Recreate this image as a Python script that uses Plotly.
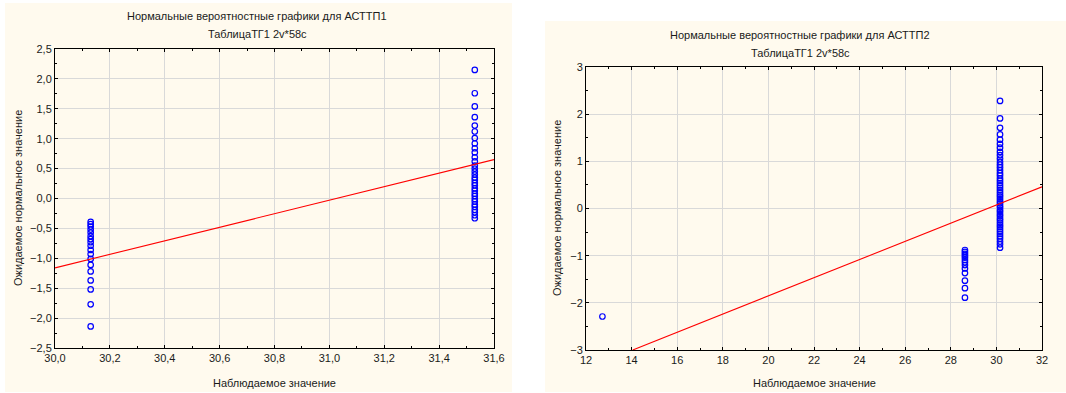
import plotly.graph_objects as go

W, H = 1066, 393

# ---------------- data: chart 1 (АСТТП1) ----------------
c1_x_low = 30.13
c1_low = [-0.39, -0.43, -0.47, -0.52, -0.57, -0.63, -0.68, -0.73, -0.79, -0.86,
          -0.93, -1.01, -1.11, -1.22, -1.37, -1.52, -1.77, -2.14]
c1_x_high = 31.53
c1_high = [2.15, 1.76, 1.54, 1.36, 1.22, 1.12, 1.01, 0.92, 0.84, 0.77, 0.69,
           0.62, 0.55, 0.50, 0.45, 0.40, 0.35, 0.31, 0.26, 0.22, 0.17, 0.13,
           0.08, 0.04, -0.01, -0.05, -0.10, -0.14, -0.19, -0.23, -0.28, -0.33]
c1_fit_x = [30.0, 31.6]
c1_fit_y = [-1.16, 0.65]

# ---------------- data: chart 2 (АСТТП2) ----------------
c2_x_single = 12.72
c2_single = [-2.29]
c2_x_mid = 28.62
c2_mid = [-0.88, -0.92, -0.96, -1.00, -1.04, -1.09, -1.14, -1.20, -1.27,
          -1.37, -1.53, -1.69, -1.89]
c2_x_high = 30.16
c2_high = [2.28, 1.91, 1.71, 1.57, 1.46, 1.37, 1.29, 1.20, 1.13, 1.06,
           0.99, 0.93, 0.87, 0.81, 0.75, 0.70, 0.64, 0.59, 0.54, 0.49,
           0.44, 0.39, 0.34, 0.29, 0.25, 0.20, 0.15, 0.11, 0.06, 0.02,
           -0.03, -0.07, -0.12, -0.16, -0.21, -0.25, -0.30, -0.35, -0.39,
           -0.44, -0.49, -0.54, -0.59, -0.64, -0.70, -0.76, -0.83]
c2_fit_x = [14.05, 32.0]
c2_fit_y = [-3.0, 0.46]

title1 = "Нормальные вероятностные графики для АСТТП1"
title2 = "Нормальные вероятностные графики для АСТТП2"
subtitle = "ТаблицаТГ1 2v*58c"
xlabel = "Наблюдаемое значение"
ylabel = "Ожидаемое нормальное значение"

FONT = "Liberation Sans, Arial, sans-serif"
CREAM = "#FFFAEE"
MK = dict(symbol="circle-open", size=5.5, color="#0000FF", line=dict(width=1.2, color="#0000FF"))

def px(x):
    return x / W

def py(y):
    return 1 - y / H

fig = go.Figure()

fig.add_trace(go.Scatter(x=[c1_x_low] * len(c1_low), y=c1_low, mode="markers",
                         marker=MK, xaxis="x", yaxis="y", showlegend=False))
fig.add_trace(go.Scatter(x=[c1_x_high] * len(c1_high), y=c1_high, mode="markers",
                         marker=MK, xaxis="x", yaxis="y", showlegend=False))
fig.add_trace(go.Scatter(x=c1_fit_x, y=c1_fit_y, mode="lines",
                         line=dict(color="#FF0000", width=1.1), xaxis="x", yaxis="y",
                         showlegend=False))

fig.add_trace(go.Scatter(x=[c2_x_single] * len(c2_single), y=c2_single, mode="markers",
                         marker=MK, xaxis="x2", yaxis="y2", showlegend=False))
fig.add_trace(go.Scatter(x=[c2_x_mid] * len(c2_mid), y=c2_mid, mode="markers",
                         marker=MK, xaxis="x2", yaxis="y2", showlegend=False))
fig.add_trace(go.Scatter(x=[c2_x_high] * len(c2_high), y=c2_high, mode="markers",
                         marker=MK, xaxis="x2", yaxis="y2", showlegend=False))
fig.add_trace(go.Scatter(x=c2_fit_x, y=c2_fit_y, mode="lines",
                         line=dict(color="#FF0000", width=1.1), xaxis="x2", yaxis="y2",
                         showlegend=False))

axis_common = dict(
    showgrid=True, gridcolor="#D9D9D9", gridwidth=1, zeroline=False,
    showline=True, linecolor="#000000", linewidth=1, mirror="allticks",
    ticks="inside", ticklen=3, tickcolor="#000000",
    tickfont=dict(family=FONT, size=11, color="#1a1a1a"),
    automargin=False, fixedrange=True,
)

fig.update_layout(
    width=W, height=H,
    margin=dict(l=0, r=0, t=0, b=0),
    paper_bgcolor="#FFFFFF", plot_bgcolor="#FFFFFF",
    separators=", ",
    font=dict(family=FONT, size=11, color="#1a1a1a"),
    xaxis=dict(axis_common, domain=[px(55), px(494)], range=[30.0, 31.6],
               tick0=30.0, dtick=0.2, tickformat=".1f", anchor="y",
               minor=dict(dtick=0.1, ticks="inside", ticklen=2, showgrid=False, tickcolor="#000")),
    yaxis=dict(axis_common, domain=[py(348), py(49)], range=[-2.5, 2.5],
               tick0=-2.5, dtick=0.5, tickformat=".1f", anchor="x",
               minor=dict(dtick=0.25, ticks="inside", ticklen=2, showgrid=False, tickcolor="#000")),
    xaxis2=dict(axis_common, domain=[px(586), px(1042)], range=[12, 32],
                tick0=12, dtick=2, anchor="y2",
                minor=dict(dtick=1, ticks="inside", ticklen=2, showgrid=False, tickcolor="#000")),
    yaxis2=dict(axis_common, domain=[py(350), py(67)], range=[-3, 3],
                tick0=-3, dtick=1, anchor="x2",
                minor=dict(dtick=0.5, ticks="inside", ticklen=2, showgrid=False, tickcolor="#000")),
    shapes=[
        dict(type="rect", xref="paper", yref="paper", x0=px(5), x1=px(512),
             y0=py(392), y1=py(3), fillcolor=CREAM, line=dict(width=0), layer="below"),
        dict(type="rect", xref="paper", yref="paper", x0=px(545), x1=1.0,
             y0=py(392), y1=py(21), fillcolor=CREAM, line=dict(width=0), layer="below"),
    ],
)

ann = []
def add_text(text, x, y, angle=0, size=11):
    ann.append(dict(text=text, x=px(x), y=py(y), xref="paper", yref="paper",
                    showarrow=False, xanchor="center", yanchor="middle",
                    textangle=angle, font=dict(family=FONT, size=size, color="#1a1a1a")))

add_text(title1, 257, 16)
add_text(subtitle, 257, 34)
add_text(title2, 800, 35)
add_text(subtitle, 800, 53)
add_text(xlabel, 274, 383)
add_text(xlabel, 814, 383)
add_text(ylabel, 18, 198, angle=-90)
add_text(ylabel, 557, 208, angle=-90)
fig.update_layout(annotations=ann)

fig.write_html(
    "out.html",
    config={"displayModeBar": False},
    post_script="document.body.style.margin='0';document.body.style.padding='0';"
                "document.documentElement.style.overflow='hidden';",
)
